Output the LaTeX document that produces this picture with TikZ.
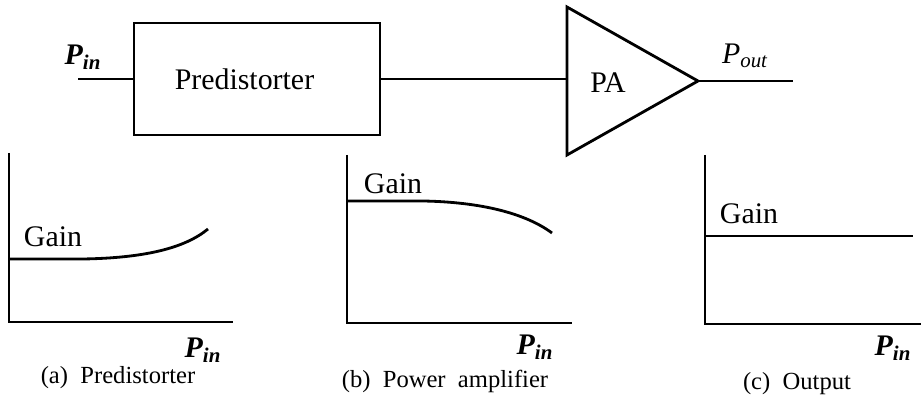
\documentclass[tikz,border=0pt]{standalone}
\usepackage{fontspec}
\setmainfont{Liberation Serif}

\begin{document}
\begin{tikzpicture}[line cap=butt, wire/.style={line width=1.6pt},
    lbl/.style={font=\fontsize{17}{20}\selectfont},
    pvar/.style={font=\fontsize{17}{20}\selectfont\itshape},
    pbold/.style={font=\fontsize{17}{20}\selectfont\bfseries\itshape},
    captxt/.style={font=\fontsize{14}{17}\selectfont}]
  \useasboundingbox (0,0) rectangle (18.42,8.06);

  % Block diagram
  \node[draw, wire, minimum width=4.92cm, minimum height=2.24cm, lbl] (pre) at (5.14,6.48) {Predistorter\hspace*{0.5cm}};
  \coordinate (in) at (1.56,6.48);
  \draw[wire] (in) -- (pre.west);
  \node[pbold] (pin) at (1.66,6.92) {P\textsubscript{in}};

  \coordinate (patop) at (11.34,7.92);
  \coordinate (pabot) at (11.34,4.96);
  \coordinate (patip) at (13.96,6.44);
  \draw[wire, line join=miter] (patop) -- (patip) -- (pabot) -- cycle;
  \node[lbl] (pa) at (12.16,6.40) {PA};
  \draw[wire] (pre.east) -- (pre.east -| patop);
  \coordinate (out) at (15.86,6.44);
  \draw[wire] (patip) -- (out);
  \node[pvar] (pout) at (14.9,6.94) {P\textsubscript{out}};

  % (a) Predistorter gain
  \draw[wire] (0.18,5.0) -- (0.18,1.62) -- (4.66,1.62);
  \draw[wire] (0.18,2.88) -- (1.66,2.88) .. controls (2.9,2.9) and (3.7,3.1) .. (4.16,3.48);
  \node[lbl] (gaina) at (1.06,3.32) {Gain};
  \node[pbold] (pina) at (4.06,1.06) {P\textsubscript{in}};
  \node[captxt] (capa) at (2.36,0.5) {(a)\ \ Predistorter};

  % (b) Power amplifier gain
  \draw[wire] (6.94,4.96) -- (6.94,1.60) -- (11.44,1.60);
  \draw[wire] (6.94,4.04) -- (8.46,4.04) .. controls (9.6,4.02) and (10.5,3.8) .. (11.04,3.40);
  \node[lbl] (gainb) at (7.86,4.38) {Gain};
  \node[pbold] (pinb) at (10.7,1.12) {P\textsubscript{in}};
  \node[captxt] (capb) at (8.9,0.44) {(b)\ \ Power\ \ amplifier};

  % (c) Output gain
  \draw[wire] (14.1,4.96) -- (14.1,1.58) -- (18.42,1.58);
  \draw[wire] (14.1,3.34) -- (18.26,3.34);
  \node[lbl] (gainc) at (14.98,3.78) {Gain};
  \node[pbold] (pinc) at (17.86,1.10) {P\textsubscript{in}};
  \node[captxt] (capc) at (15.94,0.38) {(c)\ \ Output};
\end{tikzpicture}
\end{document}
